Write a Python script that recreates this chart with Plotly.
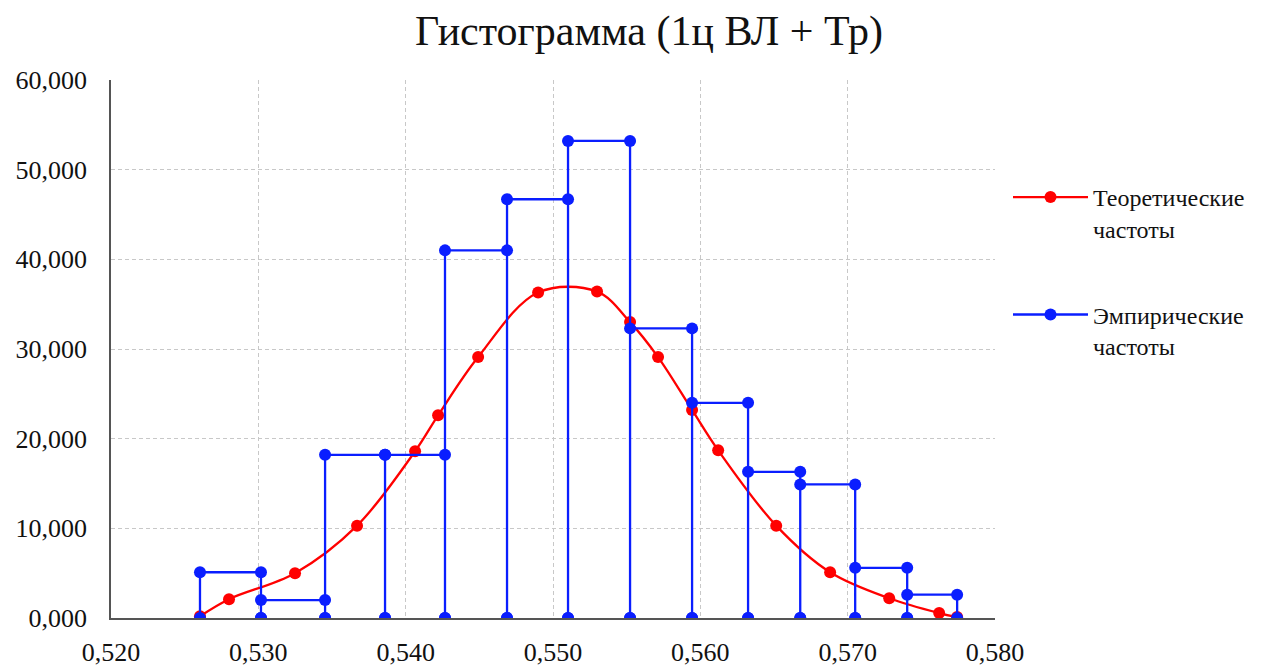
import plotly.graph_objects as go

# Histogram bin edges and empirical frequencies
bin_edges = [0.52604, 0.53018, 0.53453, 0.53860, 0.54267, 0.54688, 0.55102,
             0.55523, 0.55944, 0.56324, 0.56678, 0.57051, 0.57404, 0.57743]
emp_freq = [5.1, 2.0, 18.2, 18.2, 41.0, 46.7, 53.2, 32.3, 24.0, 16.3, 14.9, 5.6, 2.6]

# Theoretical frequencies (normal curve)
theo_x = [0.52604, 0.52801, 0.53249, 0.53670, 0.54064, 0.54220, 0.54492, 0.54899,
          0.55299, 0.55523, 0.55713, 0.55944, 0.56121, 0.56515, 0.56881, 0.57282,
          0.57621, 0.57743]
theo_y = [0.2, 2.1, 5.0, 10.3, 18.6, 22.6, 29.1, 36.3,
          36.4, 33.0, 29.1, 23.2, 18.7, 10.3, 5.1, 2.2,
          0.55, 0.1]

x_ticks = [0.52, 0.53, 0.54, 0.55, 0.56, 0.57, 0.58]
y_ticks = [0, 10, 20, 30, 40, 50, 60]

emp_x, emp_y = [], []
for i, h in enumerate(emp_freq):
    a, b = bin_edges[i], bin_edges[i + 1]
    emp_x += [a, a, b, b]
    emp_y += [0, h, h, 0]

FONT = "'Liberation Serif', 'Times New Roman', serif"

fig = go.Figure()
fig.add_trace(go.Scatter(
    x=theo_x, y=theo_y, mode="lines+markers",
    name="Теоретические<br>частоты", legendgroup="t",
    line=dict(color="#ff0000", width=2.3, shape="spline", smoothing=1),
    marker=dict(color="#ff0000", size=12),
))
fig.add_trace(go.Scatter(
    x=emp_x, y=emp_y, mode="lines+markers",
    name="Эмпирические<br>частоты", legendgroup="e",
    line=dict(color="#0a1eff", width=2.3),
    marker=dict(color="#0a1eff", size=12),
))

fig.update_layout(
    width=1269, height=669,
    margin=dict(l=111, r=274, t=80, b=51, autoexpand=False),
    paper_bgcolor="white", plot_bgcolor="white",
    separators=", ",
    font=dict(family=FONT, size=26, color="#111111"),
    title=dict(text="Гистограмма (1ц ВЛ + Тр)", x=649 / 1269, xanchor="center",
               xref="container", yref="container", y=(669 - 30) / 669, yanchor="middle",
               font=dict(family=FONT, size=42, color="#111111")),
    showlegend=True,
    legend=dict(x=(1008 - 111) / 884, xanchor="left", y=(618 - 175) / 538, yanchor="top",
                font=dict(family=FONT, size=24, color="#111111"),
                valign="top", itemwidth=75, tracegroupgap=52,
                bgcolor="rgba(0,0,0,0)"),
    xaxis=dict(range=[0.52, 0.58], tickvals=x_ticks, tickformat=".3f",
               showgrid=True, gridcolor="#c8c8c8", griddash="4px,3px", gridwidth=1,
               showline=True, linecolor="#555555", linewidth=1.5, automargin=False,
               zeroline=False, ticks="", ticklabelstandoff=10),
    yaxis=dict(range=[0, 60], tickvals=y_ticks, tickformat=".3f",
               showgrid=True, gridcolor="#c8c8c8", griddash="4px,3px", gridwidth=1,
               showline=True, linecolor="#555555", linewidth=1.5, automargin=False,
               zeroline=False, ticks="", ticklabelstandoff=17),
)

fig.write_html("out.html", config={"displayModeBar": False},
               post_script="document.body.style.margin='0px';")
